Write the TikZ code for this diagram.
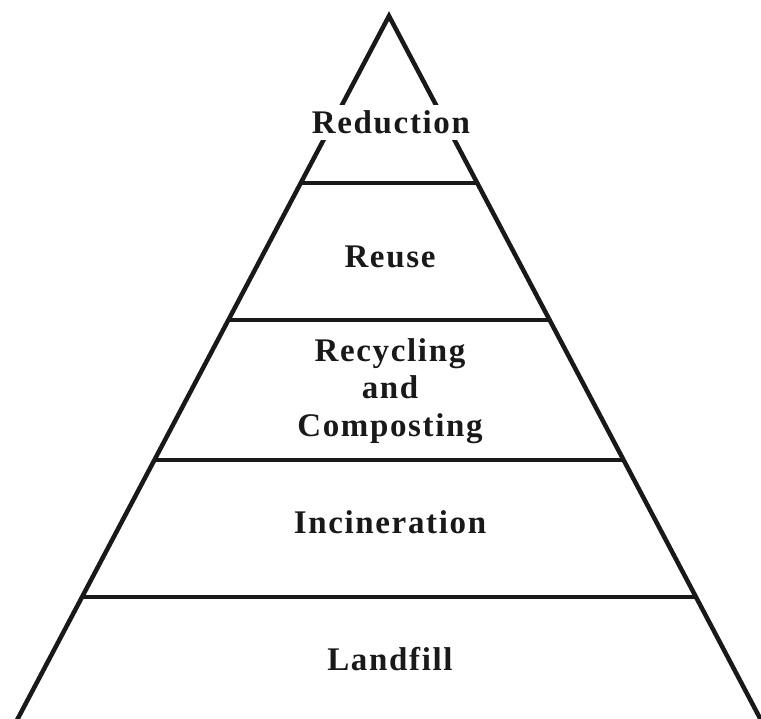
\documentclass[tikz,border=0pt]{standalone}
\usepackage{fontspec}
\setmainfont{Liberation Serif}
\newfontfamily\lblfont[LetterSpace=5]{Liberation Serif Bold}
\usetikzlibrary{calc}
\tikzset{
  edge/.style={line width=4.5pt, draw=black!90, line join=miter},
  tier/.style={line width=4.5pt, draw=black!90},
  lbl/.style={anchor=base, font=\lblfont\fontsize{33}{38}\selectfont, text=black!90, inner sep=0pt}
}
\begin{document}
\begin{tikzpicture}[x=1pt,y=-1pt]
\useasboundingbox (0,0) rectangle (761,719);
\clip (0,0) rectangle (761,719);
\coordinate (A) at (389,16);
\coordinate (BL) at (16,722);
\coordinate (BR) at (762,722);
\draw[edge] (BL) -- (A) -- (BR);
\foreach \n/\y in {1/183,2/320,3/460,4/597}{
  \coordinate (L\n) at ($(A)!{(\y-16)/706}!(BL)$);
  \coordinate (R\n) at ($(A)!{(\y-16)/706}!(BR)$);
  \draw[tier] (L\n) -- (R\n);
}
\node[lbl, fill=white, inner xsep=1pt, inner ysep=6pt] (red) at (391,134) {Reduction};
\node[lbl] (reu) at (390,268) {Reuse};
\node[lbl] (rec1) at (390,362) {Recycling};
\node[lbl] (rec2) at (390,399) {and};
\node[lbl] (rec3) at (390,436) {Composting};
\node[lbl] (inc) at (390,533) {Incineration};
\node[lbl] (lan) at (390,670) {Landfill};
\end{tikzpicture}
\end{document}
